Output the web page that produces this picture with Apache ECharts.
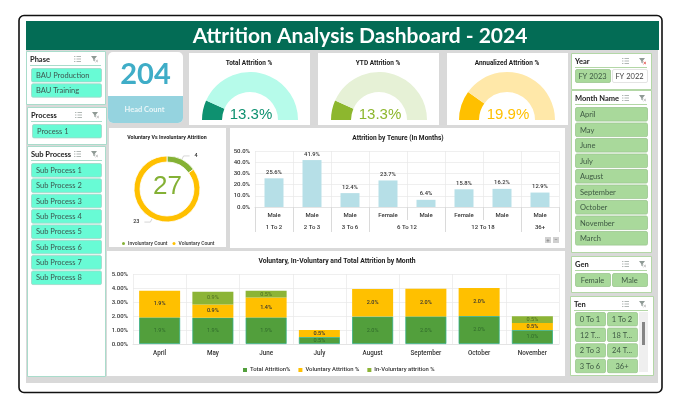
<!DOCTYPE html>
<html><head><meta charset="utf-8">
<style>html,body{margin:0;padding:0;background:#fff}#c{width:680px;height:409px}</style>
<script src="https://cdn.jsdelivr.net/npm/echarts@6/dist/echarts.min.js"></script>
</head><body><div id="c"></div>
<script>
// ---- data ----
const dashboardTitle = 'Attrition Analysis Dashboard - 2024';
const headCount = 204;
const gaugeTitles = ['Total Attrition %', 'YTD Attrition %', 'Annualized Attrition %'];
const gaugeValues = [13.3, 13.3, 19.9];
const donutNames = ['Involuntary Count', 'Voluntary Count'];
const donutValues = [4, 23];
const donutTotal = 27;
const tenureGender = ['Male', 'Male', 'Male', 'Female', 'Male', 'Female', 'Male', 'Male'];
const tenureValues = [25.6, 41.9, 12.4, 23.7, 6.4, 15.8, 16.2, 12.9];
const tenureGroups = ['1 To 2', '2 To 3', '3 To 6', '6 To 12', '12 To 18', '36+'];
const tenureGroupSpans = [1, 1, 1, 2, 2, 1];
const months = ['April', 'May', 'June', 'July', 'August', 'September', 'October', 'November'];
const totalAttrition = [1.9, 1.88, 1.9, 0.5, 1.96, 1.97, 2.0, 1.0];
const voluntaryAttrition = [1.9, 0.94, 1.42, 0.5, 1.96, 1.97, 2.0, 0.5];
const involuntaryAttrition = [0, 0.92, 0.48, 0, 0, 0, 0, 0.48];
const phaseItems = ['BAU Production', 'BAU Training'];
const processItems = ['Process 1'];
const subProcessItems = ['Sub Process 1', 'Sub Process 2', 'Sub Process 3', 'Sub Process 4', 'Sub Process 5', 'Sub Process 6', 'Sub Process 7', 'Sub Process 8'];
const yearItems = ['FY 2023', 'FY 2022'];
const monthItems = ['April', 'May', 'June', 'July', 'August', 'September', 'October', 'November', 'March'];
const genderItems = ['Female', 'Male'];
const tenItems = ['0 To 1', '1 To 2', '12 T...', '18 T...', '2 To 3', '24 T...', '3 To 6', '36+'];

// ---- style ----
const UI = 'Lato, "Open Sans", sans-serif';
const SM = 'Roboto, "Noto Sans", sans-serif';
const gaugeColors = [['#0E9170', '#B6FBEA'], ['#8DB72E', '#E6F1D6'], ['#FFC000', '#FFE8A9']];
const g = [];
const rect = (x, y, w, h, fill, stroke, r, lw, z) => g.push({type: 'rect', z: z === undefined ? -5 : z, silent: true,
  shape: {x, y, width: w, height: h, r: r || 0}, style: {fill: fill || 'none', stroke: stroke || 'none', lineWidth: lw || 1}});
const text = (x, y, t, font, fill, align, z) => g.push({type: 'text', z: z === undefined ? 5 : z, silent: true, x, y,
  style: {text: t, font, fill, align: align || 'left', verticalAlign: 'middle'}});
const line = (x1, y1, x2, y2, c, lw) => g.push({type: 'line', z: -4, silent: true, shape: {x1, y1, x2, y2}, style: {stroke: c, lineWidth: lw || 1}});

function icons(x, y, active) {
  for (let i = 0; i < 3; i++) { line(x + 2.5, y - 2.5 + i * 2.5, x + 7, y - 2.5 + i * 2.5, '#8f9a95', 0.7); line(x, y - 2.5 + i * 2.5, x + 1.4, y - 2.5 + i * 2.5, '#8f9a95', 0.7); }
  g.push({type: 'polygon', z: -4, silent: true, shape: {points: [[x + 17, y - 3], [x + 23, y - 3], [x + 20.7, y], [x + 20.7, y + 2.5], [x + 19.3, y + 1.5], [x + 19.3, y]]}, style: {fill: '#8f9a95'}});
  line(x + 21.5, y + 0.8, x + 24, y + 3.2, active ? '#E0403A' : '#b5b5b5', 0.8);
  line(x + 24, y + 0.8, x + 21.5, y + 3.2, active ? '#E0403A' : '#b5b5b5', 0.8);
}
function slicer(x, y, w, h, title, border, iconX, divW, active) {
  rect(x + .5, y + .5, w, h, '#fff', border, 0, 1);
  text(x + 4, y + 8.5, title, 'bold 7.5px ' + UI, '#222');
  line(x + 4, y + 14.5, x + 4 + divW, y + 14.5, border, 1);
  icons(iconX, y + 8, active);
}
function button(x, y, w, h, t, fill, stroke, color, tx) {
  rect(x + .5, y + .5, w, h, fill, stroke, 1.5, 0.8);
  text(tx === undefined ? x + 5 : tx, y + h / 2 + .8, t, '7.5px ' + UI, color || '#3d5750', tx === undefined ? 'left' : 'center');
}

// frame
rect(19, 15.5, 643, 377, '#fff', '#111', 5, 1.6);
rect(26, 50, 632, 333, '#D9D9D9');
rect(26, 21, 633, 29, '#036C55');
text(360, 36, dashboardTitle, 'bold 21px ' + UI, '#fff', 'center');

// left slicers
const TEAL = '#A9DCCB', MINT = '#68FBD5', MS = '#9FD6C6';
slicer(26, 51, 79, 53, 'Phase', TEAL, 74, 71);
phaseItems.forEach((t, i) => button(31, 68 + i * 15.3, 70, 13.4, t, MINT, MS));
slicer(27, 107, 79, 37, 'Process', TEAL, 75, 71);
processItems.forEach((t, i) => button(32, 124, 69, 13.4, t, MINT, MS));
slicer(27, 146, 78, 230, 'Sub Process', TEAL, 74, 71);
subProcessItems.forEach((t, i) => button(31, 163 + i * 15.35, 70, 13.6, t, MINT, MS));

// right slicers
const GB = '#B3D7A6', LG = '#A9D99B', GS = '#9CC78F';
slicer(571, 53, 80, 36, 'Year', GB, 622, 72, true);
button(575, 69, 35, 13, yearItems[0], LG, GS, '#3f5a44', 592.5);
button(612, 69, 35, 13, yearItems[1], '#fff', '#ddd', '#444', 629.5);
slicer(571, 90, 80, 162, 'Month Name', GB, 622, 72);
monthItems.forEach((t, i) => button(575, 107 + i * 15.5, 72, 13.6, t, LG, GS, '#3f5a44'));
slicer(571, 256, 80, 36, 'Gen', GB, 622, 72);
genderItems.forEach((t, i) => button(575 + i * 37, 273, 35, 13, t, LG, GS, '#3f5a44', 592.5 + i * 37));
slicer(570, 296, 83, 79, 'Ten', GB, 622, 74);
tenItems.forEach((t, i) => button(575 + (i % 2) * 32, 312 + Math.floor(i / 2) * 15.6, 30, 13.4, t, LG, GS, '#3f5a44', 590 + (i % 2) * 32));
rect(639, 312, 9, 60, '#EFEFEF');
rect(642, 322, 3, 23, '#858585', null, 0, 1, -3);

// head count card
rect(108, 52, 75, 71, '#fff', null, 5);
rect(108, 96, 75, 27, '#95D3DF', null, [0, 0, 5, 5]);
text(145.5, 75, String(headCount), 'bold 29px ' + UI, '#3FADC7', 'center');
text(144.5, 109.5, 'Head Count', 'bold 7.5px ' + UI, '#E9F6F8', 'center');

// KPI cards
const cardX = [189, 318, 447], gaugeX = [250, 379, 507];
cardX.forEach((x, i) => {
  rect(x, 53, 121, 72, '#fff');
  text(x + 60, 63, gaugeTitles[i], 'bold 6.5px ' + SM, '#222', 'center');
  text(gaugeX[i] + 1, 114.5, gaugeValues[i].toFixed(1) + '%', '15px "Liberation Sans", Arial, sans-serif', gaugeColors[i][0], 'center');
});

// chart panels
rect(109, 128, 117, 119, '#fff');
rect(230, 128, 335, 120, '#fff');
rect(107, 251, 458, 125, '#fff');
text(167, 137.5, 'Voluntary Vs Involuntary Attrition', 'bold 5.3px ' + SM, '#222', 'center');
text(398, 138, 'Attrition by Tenure (In Months)', 'bold 6.6px ' + SM, '#222', 'center');
text(337, 261, 'Voluntary, In-Voluntary and Total Attrition by Month', 'bold 6.8px ' + SM, '#222', 'center');
text(167.5, 187, String(donutTotal), '26px "Liberation Sans", Arial, sans-serif', '#84B135', 'center');
rect(545, 237, 6, 6, '#D0D0D0'); rect(553, 237, 6, 6, '#D0D0D0');
text(548, 240, '+', '6px ' + SM, '#777', 'center'); text(556, 240, '\u2212', '6px ' + SM, '#777', 'center');

// ---- series ----
const gaugeSeries = gaugeValues.map((v, i) => ({
  type: 'pie', silent: true, animation: false, center: [gaugeX[i], 120], radius: [28, 48],
  startAngle: 180, endAngle: 0, label: {show: false}, labelLine: {show: false}, z: 2,
  data: [{value: v, itemStyle: {color: gaugeColors[i][0]}}, {value: 100 - v, itemStyle: {color: gaugeColors[i][1]}}]
}));
const axisFont = {fontFamily: SM, fontSize: 6, fontWeight: 500, color: '#333'};
const groupEdges = [0], groupMids = [];
tenureGroupSpans.forEach((s, i) => { groupMids.push(groupEdges[i] + s / 2); groupEdges.push(groupEdges[i] + s); });

const option = {
  animation: false,
  graphic: {elements: g},
  legend: [
    {left: 117, top: 236, itemWidth: 3, itemHeight: 3, itemGap: 5, icon: 'circle', data: donutNames,
     itemStyle: {borderWidth: 0},
     textStyle: {fontFamily: SM, fontSize: 5, fontWeight: 500, color: '#333', padding: [0, 0, 0, -2]}, selectedMode: false},
    {left: 238, top: 362, itemWidth: 4, itemHeight: 4, itemGap: 8, icon: 'rect',
     data: ['Total Attrition%', 'Voluntary Attrition %', 'In-Voluntary attrition %'],
     itemStyle: {borderWidth: 0},
     textStyle: {fontFamily: SM, fontSize: 5.9, fontWeight: 500, color: '#333', padding: [0, 0, 0, -2]}, selectedMode: false}
  ],
  grid: [
    {left: 255, right: 680 - 559, top: 151, height: 56},
    {left: 133, right: 680 - 559, top: 274, height: 70}
  ],
  xAxis: [
    {type: 'category', gridIndex: 0, data: tenureGender,
     axisLine: {lineStyle: {color: '#E4E4E4'}}, axisTick: {show: true, length: 13, lineStyle: {color: '#DADADA'}},
     splitLine: {show: true, interval: 0, lineStyle: {color: '#E8E8E8', width: 0.7}},
     axisLabel: {...axisFont, margin: 5, interval: 0}},
    {type: 'value', gridIndex: 0, min: 0, max: tenureValues.length, position: 'bottom', offset: 13,
     axisLine: {show: false}, splitLine: {show: false},
     axisTick: {show: true, customValues: groupEdges, length: 12, lineStyle: {color: '#DADADA'}},
     axisLabel: {...axisFont, margin: 4, customValues: groupMids, hideOverlap: false,
       formatter: v => tenureGroups[groupMids.indexOf(v)]}},
    {type: 'category', gridIndex: 1, data: months,
     axisLine: {lineStyle: {color: '#E4E4E4'}}, axisTick: {show: false},
     splitLine: {show: true, interval: 0, lineStyle: {color: '#E8E8E8', width: 0.7}},
     axisLabel: {...axisFont, fontSize: 6.3, margin: 6, interval: 0}}
  ],
  yAxis: [
    {type: 'value', gridIndex: 0, min: 0, max: 50, interval: 10, axisLine: {show: false}, axisTick: {show: false},
     splitLine: {lineStyle: {color: '#E8E8E8', width: 0.7}},
     axisLabel: {...axisFont, margin: 5, formatter: v => v.toFixed(1) + '%'}},
    {type: 'value', gridIndex: 1, min: 0, max: 5, interval: 1, axisLine: {show: false}, axisTick: {show: false},
     splitLine: {lineStyle: {color: '#E8E8E8', width: 0.7}},
     axisLabel: {...axisFont, margin: 5, formatter: v => v.toFixed(2) + '%'}}
  ],
  series: [
    ...gaugeSeries,
    {type: 'pie', name: 'donut', silent: true, center: [167, 189], radius: [27, 33], startAngle: 90, minShowLabelAngle: 0,
     itemStyle: {borderColor: '#fff', borderWidth: 0.8},
     label: {show: true, fontFamily: SM, fontSize: 5.5, fontWeight: 500, color: '#333', formatter: '{c}'},
     labelLine: {show: true, length: 4, length2: 6, lineStyle: {color: '#bbb', width: 0.6}},
     data: donutNames.map((name, i) => ({name, value: donutValues[i], itemStyle: {color: ['#84B135', '#FFC000'][i]}}))},
    {type: 'bar', xAxisIndex: 0, yAxisIndex: 0, data: tenureValues, barWidth: 19, silent: true,
     itemStyle: {color: '#B6DFE7'},
     label: {show: true, position: 'top', distance: 3, fontFamily: SM, fontSize: 5.8, fontWeight: 500, color: '#333', formatter: p => p.value.toFixed(1) + '%'}},
    {type: 'bar', name: 'Total Attrition%', stack: 'm', xAxisIndex: 2, yAxisIndex: 1, data: totalAttrition, barWidth: 41, silent: true,
     itemStyle: {color: '#529F3C', borderColor: '#35AE85', borderWidth: 0.8},
     label: {show: true, position: 'inside', fontFamily: SM, fontSize: 5.5, color: '#2F6A2A', formatter: p => p.value.toFixed(1) + '%'}},
    {type: 'bar', name: 'Voluntary Attrition %', stack: 'm', xAxisIndex: 2, yAxisIndex: 1, data: voluntaryAttrition, barWidth: 41, silent: true,
     itemStyle: {color: '#FFC000'},
     label: {show: true, position: 'inside', fontFamily: SM, fontSize: 5.5, fontWeight: 500, color: '#333', formatter: p => p.value.toFixed(1) + '%'}},
    {type: 'bar', name: 'In-Voluntary attrition %', stack: 'm', xAxisIndex: 2, yAxisIndex: 1, data: involuntaryAttrition, barWidth: 41, silent: true,
     itemStyle: {color: '#8CB436'},
     label: {show: true, position: 'inside', fontFamily: SM, fontSize: 5.5, color: '#4C6B22', formatter: p => p.value ? p.value.toFixed(1) + '%' : ''}}
  ]
};
const chart = echarts.init(document.getElementById('c'));
chart.setOption(option);
</script></body></html>
